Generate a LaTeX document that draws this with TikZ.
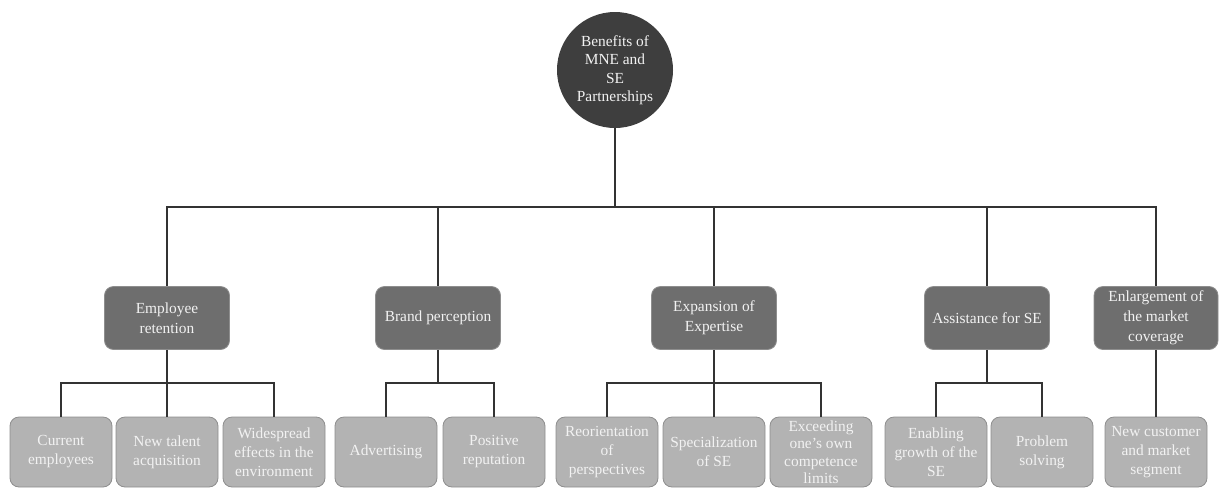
\documentclass[tikz,border=0pt]{standalone}
\usepackage{fontspec}
\setmainfont{Liberation Serif}
\definecolor{rootgray}{HTML}{3E3E3E}
\definecolor{catgray}{HTML}{6E6E6E}
\definecolor{leafgray}{HTML}{B3B3B3}
\definecolor{edgegray}{HTML}{8E8E8E}
\definecolor{linegray}{HTML}{333333}
\definecolor{lighttext}{HTML}{F2F2F2}
\tikzset{
  rootnode/.style={circle, fill=rootgray, text=lighttext, minimum size=116pt,
    inner sep=0pt, align=center, font=\fontsize{15.4}{18.5}\selectfont},
  catbox/.style={rectangle, rounded corners=9pt, fill=catgray, draw=edgegray,
    line width=0.8pt, text=lighttext, minimum width=125pt, minimum height=63pt,
    inner sep=0pt, align=center, font=\fontsize{15.4}{20}\selectfont},
  leafbox/.style={rectangle, rounded corners=9pt, fill=leafgray, draw=edgegray,
    line width=0.8pt, text=lighttext, minimum width=102pt, minimum height=70pt,
    inner sep=0pt, align=center, font=\fontsize{15.4}{19}\selectfont},
  link/.style={draw=linegray, line width=1.3pt}
}
\begin{document}
\begin{tikzpicture}[x=1pt,y=-1pt]
    \useasboundingbox (0,0) rectangle (1219,488);
    % root
    \node[rootnode] (root) at (615,70) {Benefits of\\MNE and\\SE\\Partnerships};
    % categories
    \node[catbox] (cat1) at (167,318) {Employee\\retention};
    \node[catbox] (cat2) at (438,318) {Brand perception};
    \node[catbox] (cat3) at (714,318) {Expansion of\\Expertise};
    \node[catbox] (cat4) at (987,318) {Assistance for SE};
    \node[catbox, minimum width=124pt] (cat5) at (1156,318) {Enlargement of\\the market\\coverage};
    % leaves
    \node[leafbox] (l11) at (61,452) {Current\\employees};
    \node[leafbox] (l12) at (167,452) {New talent\\acquisition};
    \node[leafbox] (l13) at (274,452) {Widespread\\effects in the\\environment};
    \node[leafbox] (l21) at (386,452) {Advertising};
    \node[leafbox] (l22) at (494,452) {Positive\\reputation};
    \node[leafbox] (l31) at (607,452) {Reorientation\\of\\perspectives};
    \node[leafbox] (l32) at (714,452) {Specialization\\of SE};
    \node[leafbox, font=\fontsize{15.4}{17.5}\selectfont] (l33) at (821,452) {Exceeding\\one’s own\\competence\\limits};
    \node[leafbox] (l41) at (936,452) {Enabling\\growth of the\\SE};
    \node[leafbox] (l42) at (1042,452) {Problem\\solving};
    \node[leafbox] (l51) at (1156,452) {New customer\\and market\\segment};
    % connectors
    \coordinate (bus) at (615,207);
    \draw[link] (root.south) -- (bus);
    \foreach \c in {cat1,cat2,cat3,cat4,cat5}
        \draw[link] (bus) -| (\c.north);
    \coordinate (j1) at (167,383);
    \coordinate (j2) at (438,383);
    \coordinate (j3) at (714,383);
    \coordinate (j4) at (987,383);
    \draw[link] (cat1.south) -- (j1);
    \draw[link] (cat2.south) -- (j2);
    \draw[link] (cat3.south) -- (j3);
    \draw[link] (cat4.south) -- (j4);
    \foreach \l in {l11,l12,l13}
        \draw[link] (j1) -| (\l.north);
    \foreach \l in {l21,l22}
        \draw[link] (j2) -| (\l.north);
    \foreach \l in {l31,l32,l33}
        \draw[link] (j3) -| (\l.north);
    \foreach \l in {l41,l42}
        \draw[link] (j4) -| (\l.north);
    \draw[link] (cat5.south) -- (l51.north);
\end{tikzpicture}
\end{document}
